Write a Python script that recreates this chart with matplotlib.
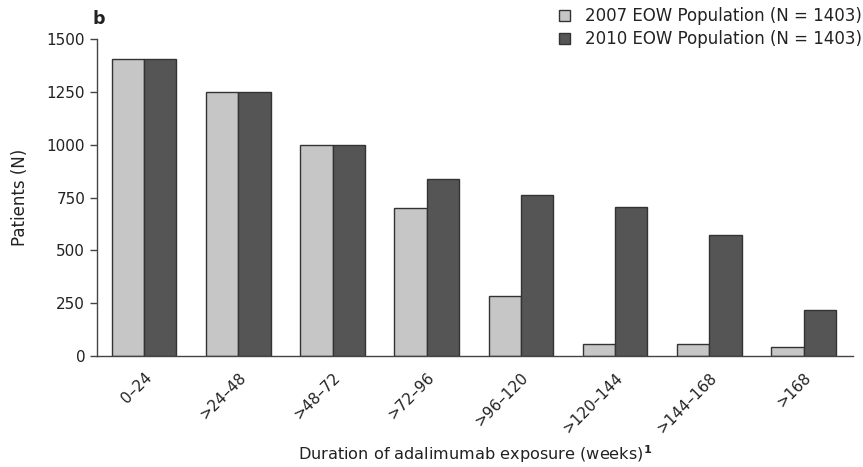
import matplotlib
matplotlib.use("Agg")
import matplotlib.pyplot as plt
import matplotlib.transforms as mtransforms
import numpy as np

categories = ["0\u201324", ">24\u201348", ">48\u201372", ">72\u201396", ">96\u2013120",
              ">120\u2013144", ">144\u2013168", ">168"]
pop2007 = [1403, 1250, 1000, 700, 282, 55, 55, 43]
pop2010 = [1403, 1250, 1000, 838, 760, 703, 572, 216]
label2007 = "2007 EOW Population (N = 1403)"
label2010 = "2010 EOW Population (N = 1403)"
yticks = [0, 250, 500, 750, 1000, 1250, 1500]

plt.rcParams['font.family'] = ['DejaVu Sans']
plt.rcParams['mathtext.fontset'] = 'dejavusans'

W, H = 863, 467
fig = plt.figure(figsize=(W / 100, H / 100), dpi=100)
ax = fig.add_axes([97 / W, 1 - 356 / H, (853 - 97) / W, (356 - 39) / H])

x = np.arange(len(categories))
w = 0.343
edge = "#333333"
ax.bar(x - w / 2, pop2007, w, color="#c6c6c6", edgecolor=edge, linewidth=1.0, label=label2007)
ax.bar(x + w / 2, pop2010, w, color="#555555", edgecolor=edge, linewidth=1.0, label=label2010)

ax.set_xlim(-0.50, 7.525)
ax.set_ylim(0, 1500)
ax.set_yticks(yticks)
ax.set_yticklabels([str(v) for v in yticks], fontsize=11, color="#222222")
ax.set_xticks(x)
ax.set_xticklabels(categories, rotation=45, ha="right", va="top", rotation_mode="anchor",
                   fontsize=11, color="#222222")
offset = mtransforms.ScaledTranslation(-7 / 100, 0, fig.dpi_scale_trans)
for lab in ax.get_xticklabels():
    lab.set_transform(lab.get_transform() + offset)
ax.tick_params(axis="x", length=0, pad=10)
ax.tick_params(axis="y", length=5, width=1, color="#444444", pad=3.5)
for s in ["top", "right"]:
    ax.spines[s].set_visible(False)
for s in ["left", "bottom"]:
    ax.spines[s].set_color("#444444")
    ax.spines[s].set_linewidth(1.0)

ax.set_ylabel("Patients (N)", fontsize=12, color="#222222", labelpad=12.5)
ax.set_xlabel("Duration of adalimumab exposure (weeks)$^{\\mathbf{1}}$", fontsize=11.6,
              color="#222222", labelpad=5.5)

fig.text(92 / W, 1 - 24 / H, "b", fontsize=12.5, fontweight="bold", color="#222222",
         va="baseline", ha="left")

leg = ax.legend(loc="upper right", bbox_to_anchor=(862 / W, 1 - 7 / H),
                bbox_transform=fig.transFigure,
                frameon=False, fontsize=12, handlelength=0.66, handleheight=0.66,
                handletextpad=0.9, labelspacing=0.33, borderaxespad=0, borderpad=0)
for t in leg.get_texts():
    t.set_color("#222222")

fig.savefig("out.png", dpi=100)
